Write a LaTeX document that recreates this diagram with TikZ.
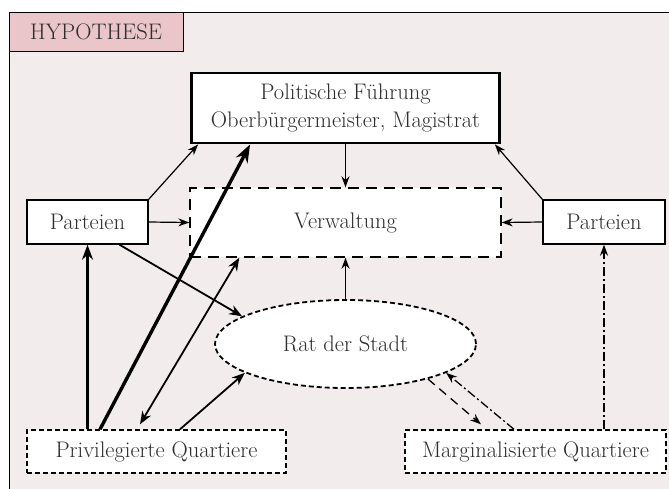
\documentclass[tikz,border=0pt]{standalone}
\usepackage{fontspec}
\usetikzlibrary{arrows.meta,shapes.geometric}

\definecolor{framefill}{RGB}{243,236,237}
\definecolor{titlefill}{RGB}{234,198,202}
\definecolor{textgray}{RGB}{45,45,45}

\newcommand{\diafont}{\fontsize{22.5}{28}\selectfont}

\tikzset{
  solidbox/.style={draw, fill=white, line width=1.4pt, font=\diafont, text=textgray, inner sep=0pt},
  dashbox/.style={draw, fill=white, line width=1.4pt, dash pattern=on 5pt off 3pt, font=\diafont, text=textgray, inner sep=0pt},
  thinarrow/.style={-{Stealth[length=11pt,width=8pt]}, line width=1.2pt},
  midarrow/.style={-{Stealth[length=13pt,width=10pt]}, line width=1.8pt},
  dashdotarrow/.style={-{Stealth[length=11pt,width=8pt]}, line width=1.3pt, dash pattern=on 9pt off 3pt on 2pt off 3pt}
}

\begin{document}
\begin{tikzpicture}[x=1pt,y=-1pt]

\useasboundingbox (0,0) rectangle (669,488);

% Draw the frame and its title
\draw[fill=framefill, line width=1pt] (9,12) rectangle (690,510);
\node[draw, fill=titlefill, line width=1pt, font=\diafont, text=textgray, minimum width=174pt, minimum height=39pt, inner sep=0pt] (title) at (96,31.5) {HYPOTHESE};

% Draw the boxes
\node[solidbox, line width=2.8pt, minimum width=308pt, minimum height=70pt, align=center] (fuehrung) at (345.5,108)
  {Politische Führung\\Oberbürgermeister, Magistrat};
\node[solidbox, line width=1.4pt, dash pattern=on 11pt off 7pt, minimum width=311pt, minimum height=69pt] (verwaltung) at (345.5,222.5) {Verwaltung};
\node[solidbox, minimum width=121pt, minimum height=44pt] (parteienL) at (87.5,222) {Parteien};
\node[solidbox, minimum width=122pt, minimum height=44pt] (parteienR) at (604,222) {Parteien};
\node[dashbox, ellipse, line width=1.8pt, minimum width=261pt, minimum height=88pt] (rat) at (345.5,344) {Rat der Stadt};
\node[dashbox, minimum width=259pt, minimum height=43pt] (priv) at (156.5,451.5) {Privilegierte Quartiere};
\node[dashbox, minimum width=261pt, minimum height=43pt] (marg) at (535.5,451.5) {Marginalisierte Quartiere};

% Draw the arrows of the left side
\draw[thinarrow] (parteienL.north east) -- ([xshift=8pt]fuehrung.south west);
\draw[thinarrow] (parteienL.east) -- (verwaltung.west);
\draw[midarrow] ([xshift=32pt]parteienL.south) -- (rat.165);
\draw[-{Stealth[length=15pt,width=11pt]}, line width=2.6pt] (parteienL.south |- priv.north) -- (parteienL.south);
\draw[-{Stealth[length=18pt,width=13pt]}, line width=3.4pt] ([xshift=-56.5pt]priv.north) -- ([xshift=60pt]fuehrung.south west);
\draw[{Stealth[length=13pt,width=10pt]}-{Stealth[length=13pt,width=10pt]}, line width=1.8pt] ([xshift=-16.5pt,yshift=5pt]priv.north) -- ([xshift=50pt]verwaltung.south west);
\draw[midarrow] ([xshift=23.5pt]priv.north) -- (rat.196);

% Draw the arrows in the middle
\draw[thinarrow, line width=1.4pt] (fuehrung.south) -- (verwaltung.north);
\draw[thinarrow, line width=1.4pt] (rat.north) -- (verwaltung.south);

% Draw the arrows of the right side
\draw[thinarrow] (parteienR.north west) -- ([xshift=-6pt]fuehrung.south east);
\draw[thinarrow] (parteienR.west) -- (verwaltung.east);
\draw[dashdotarrow] (parteienR.south |- marg.north) -- (parteienR.south);
\draw[thinarrow, line width=1.3pt, dash pattern=on 9pt off 6pt] (rat.-23) -- ([xshift=-54.5pt,yshift=5pt]marg.north);
\draw[dashdotarrow] ([xshift=-21.5pt]marg.north) -- (rat.-16);

\end{tikzpicture}
\end{document}
